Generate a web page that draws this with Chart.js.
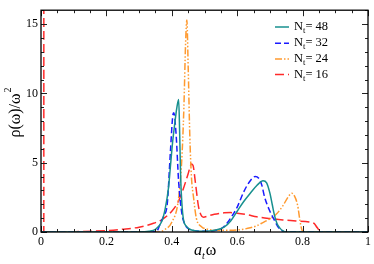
<!DOCTYPE html>
<html><head><meta charset="utf-8">
<script src="https://cdn.jsdelivr.net/npm/chart.js@4/dist/chart.umd.min.js"></script>
<style>html,body{margin:0;padding:0;background:#fff}#wrap{width:374px;height:264px}</style>
</head><body><div id="wrap"><canvas id="c"></canvas></div>
<script>
// Series N_t = 48 (solid teal)
const w48 = [0,0.30,0.33,0.35,0.37,0.38,0.39,0.396,0.403,0.409,0.415,0.421,0.424,0.427,0.431,0.436,0.445,0.455,0.47,0.50,0.53,0.56,0.58,0.60,0.62,0.64,0.66,0.679,0.69,0.70,0.707,0.714,0.722,0.73,0.74,0.75,1.0];
const r48 = [0,0,0.05,0.2,0.8,1.7,3.2,4.8,6.6,7.8,8.9,9.55,7.2,4.0,2.0,0.85,0.4,0.2,0.1,0.05,0.12,0.35,0.8,1.5,2.2,2.8,3.35,3.7,3.55,2.8,2.0,1.2,0.6,0.3,0.08,0,0];
// Series N_t = 32 (dashed blue)
const w32 = [0,0.33,0.355,0.366,0.376,0.386,0.396,0.403,0.406,0.413,0.421,0.431,0.439,0.45,0.47,0.50,0.54,0.56,0.58,0.60,0.62,0.64,0.655,0.665,0.675,0.684,0.70,0.714,0.724,0.734,0.75,1.0];
const r32 = [0,0,0.1,0.7,1.2,2.0,5.9,8.4,8.6,7.1,3.6,1.3,0.6,0.25,0.1,0.05,0.15,0.4,1.0,1.8,2.9,3.7,4.0,3.9,3.4,2.5,1.5,0.84,0.4,0.15,0,0];
// Series N_t = 24 (dash-dot orange)
const w24 = [0,0.36,0.38,0.40,0.42,0.43,0.437,0.442,0.446,0.45,0.455,0.46,0.467,0.475,0.49,0.51,0.55,0.60,0.64,0.66,0.68,0.70,0.72,0.74,0.755,0.767,0.775,0.785,0.792,0.798,0.805,1.0];
const r24 = [0,0,0.2,0.7,2.3,5.0,9.0,13.5,15.3,12.0,7.0,4.0,2.4,1.0,0.4,0.2,0.12,0.15,0.3,0.45,0.7,0.95,1.3,1.9,2.5,2.8,2.6,1.9,0.8,0.15,0,0];
// Series N_t = 16 (long-dash red)
const w16 = [0,0.0086,0.0088,0.0090,0.02,0.10,0.20,0.25,0.30,0.34,0.37,0.40,0.42,0.435,0.45,0.46,0.465,0.472,0.482,0.497,0.51,0.53,0.56,0.58,0.60,0.63,0.66,0.70,0.74,0.78,0.82,0.835,0.845,0.855,0.87,1.0];
const r16 = [0,0,60,0,0,0.02,0.1,0.2,0.35,0.6,0.9,1.5,2.2,3.1,4.2,4.9,4.8,3.6,1.8,1.07,1.15,1.28,1.38,1.4,1.36,1.25,1.1,0.97,0.87,0.8,0.72,0.62,0.3,0.03,0,0];

const seriesLabels = ['48','32','24','16'];
const xTicks = [0,0.2,0.4,0.6,0.8,1];
const yTicks = [0,5,10,15];

const pts = (xs, ys) => xs.map((x,i)=>({x:x, y:ys[i]}));
const SERIF = '"Liberation Serif", "DejaVu Serif", serif';

const styles = [
  {color:'#17908f', dash:[]},
  {color:'#1a1aff', dash:[6,3]},
  {color:'#ff9a30', dash:[7,2,1.5,2,1.5,2]},
  {color:'#ff2a2a', dash:[9,4]}
];
const sets = [[w48,r48],[w32,r32],[w24,r24],[w16,r16]];

const decor = {
  id:'decor',
  afterDraw(chart){
    const ctx = chart.ctx, a = chart.chartArea;
    const xs = chart.scales.x, ys = chart.scales.y;
    ctx.save();
    ctx.strokeStyle = '#222'; ctx.lineWidth = 1;
    for(let i=0;i<=20;i++){
      const v = i*0.05, px = Math.round(xs.getPixelForValue(v))+0.5;
      const L = (i%4===0)?6:3;
      ctx.beginPath();
      ctx.moveTo(px,a.bottom); ctx.lineTo(px,a.bottom-L);
      ctx.moveTo(px,a.top); ctx.lineTo(px,a.top+L);
      ctx.stroke();
    }
    for(let v=0; v<=16; v++){
      const py = Math.round(ys.getPixelForValue(v))+0.5;
      const L = (v%5===0)?6:3;
      ctx.beginPath();
      ctx.moveTo(a.left,py); ctx.lineTo(a.left+L,py);
      ctx.moveTo(a.right,py); ctx.lineTo(a.right-L,py);
      ctx.stroke();
    }
    ctx.lineWidth = 1.3; ctx.strokeStyle = '#000';
    ctx.strokeRect(a.left, a.top, a.right-a.left, a.bottom-a.top);
    ctx.setLineDash([]);
    const baselines = [30, 46.3, 62, 77.5];
    seriesLabels.forEach((lab,i)=>{
      const b = baselines[i];
      ctx.save();
      ctx.strokeStyle = styles[i].color; ctx.lineWidth = 1.5; ctx.setLineDash(styles[i].dash);
      ctx.beginPath(); ctx.moveTo(275,b-3); ctx.lineTo(289,b-3); ctx.stroke();
      ctx.restore();
      ctx.fillStyle = '#000'; ctx.textBaseline = 'alphabetic'; ctx.textAlign='left';
      ctx.font = '12.5px '+SERIF;
      let x = 294;
      ctx.fillText('N', x, b); x += ctx.measureText('N').width;
      ctx.font = '8.5px '+SERIF;
      ctx.fillText('t', x, b+3); x += ctx.measureText('t').width;
      ctx.font = '12.5px '+SERIF;
      ctx.fillText('= '+lab, x, b);
    });
    ctx.fillStyle='#000';
    let tx = 194, ty = 255;
    ctx.font = 'italic 16px '+SERIF;
    ctx.fillText('a', tx, ty); tx += ctx.measureText('a').width;
    ctx.font = 'italic 10px '+SERIF;
    ctx.fillText('t', tx, ty+4); tx += ctx.measureText('t').width+1;
    ctx.font = '16px '+SERIF;
    ctx.fillText('ω', tx, ty);
    ctx.save();
    ctx.translate(20, 113); ctx.rotate(-Math.PI/2);
    ctx.font = '16px '+SERIF;
    const main = 'ρ(ω)/ω';
    const mw = ctx.measureText(main).width;
    ctx.font = '10px '+SERIF;
    const sw = ctx.measureText('2').width;
    let sx = -(mw+sw)/2;
    ctx.font = '16px '+SERIF;
    ctx.fillText(main, sx, 0);
    ctx.font = '10px '+SERIF;
    ctx.fillText('2', sx+mw+1, -9);
    ctx.restore();
    ctx.restore();
  }
};

new Chart(document.getElementById('c'), {
  type:'line',
  data:{ datasets: sets.map((s,i)=>({
    label:'N_t= '+seriesLabels[i],
    data: pts(s[0], s[1]),
    borderColor: styles[i].color,
    borderDash: styles[i].dash,
    borderWidth: 1.5,
    pointRadius: 0,
    fill:false,
    cubicInterpolationMode:'monotone',
    // the return stroke of the off-scale spike overlaps the rising one; hide it so the dashes stay visible
    segment: i===3 ? { borderColor: c => (c.p0DataIndex===2 ? 'rgba(0,0,0,0)' : undefined) } : undefined
  }))},
  options:{
    responsive:true, maintainAspectRatio:false, animation:false,
    layout:{padding:{top:2,right:3,left:0,bottom:0}},
    plugins:{legend:{display:false}, tooltip:{enabled:false}},
    scales:{
      x:{ type:'linear', min:0, max:1,
        grid:{display:false, drawTicks:false}, border:{display:false},
        afterBuildTicks(s){ s.ticks = xTicks.map(v=>({value:v})); },
        afterFit(s){ s.height = 32; },
        ticks:{ padding:3, color:'#000', font:{family:SERIF,size:12}, maxRotation:0,
          callback:(v)=>String(+v.toFixed(1)) }
      },
      y:{ type:'linear', min:0, max:16,
        grid:{display:false, drawTicks:false}, border:{display:false},
        afterBuildTicks(s){ s.ticks = yTicks.map(v=>({value:v})); },
        afterFit(s){ s.width = 41; },
        ticks:{ padding:3, color:'#000', font:{family:SERIF,size:12} }
      }
    }
  },
  plugins:[decor]
});
</script></body></html>
